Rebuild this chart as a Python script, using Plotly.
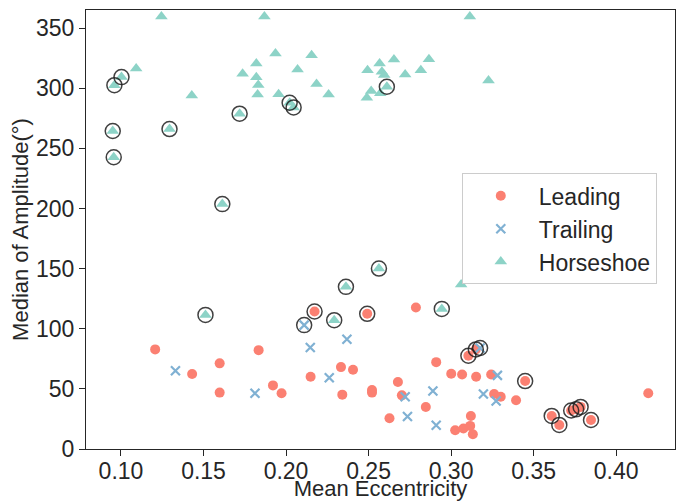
import plotly.graph_objects as go

# Leading (red circles): eccentricity, amplitude, circled flag
lead_e = [0.1207, 0.1431, 0.1598, 0.1598, 0.1834, 0.1921, 0.1973,
          0.2173, 0.2492, 0.2787, 0.2149, 0.2333, 0.2406, 0.2341, 0.2521, 0.2521,
          0.2678, 0.2702, 0.2627, 0.2847, 0.2910, 0.3001, 0.3067, 0.3152, 0.3243,
          0.3120, 0.3025, 0.3075, 0.3116, 0.3132, 0.3261, 0.3301, 0.3105, 0.3150,
          0.3394, 0.3449, 0.4195, 0.3610, 0.3656, 0.3728, 0.3758, 0.3785, 0.3848]
lead_v = [82.8, 62.3, 71.2, 46.9, 82.2, 52.9, 46.3,
          114.3, 112.4, 117.6, 60.1, 68.1, 65.9, 45.2, 49.0, 46.9,
          55.7, 44.6, 25.5, 34.9, 72.2, 62.6, 62.0, 60.1, 62.0,
          27.5, 15.6, 17.0, 19.2, 12.3, 45.7, 43.5, 77.5, 82.8,
          40.5, 56.5, 46.3, 27.5, 20.0, 32.0, 33.0, 35.0, 24.1]
lead_c = [0, 0, 0, 0, 0, 0, 0,
          1, 1, 0, 0, 0, 0, 0, 0, 0,
          0, 0, 0, 0, 0, 0, 0, 0, 0,
          0, 0, 0, 0, 0, 0, 0, 1, 1,
          0, 1, 0, 1, 1, 1, 1, 1, 1]

# Trailing (blue crosses)
trail_e = [0.1330, 0.1812, 0.2110, 0.2147, 0.2369, 0.2262, 0.2722, 0.2736,
           0.2890, 0.2910, 0.3281, 0.3196, 0.3273, 0.3176]
trail_v = [65.1, 46.3, 103.0, 84.4, 91.3, 59.3, 43.5, 27.0,
           48.2, 19.7, 61.2, 45.7, 39.9, 84.0]
trail_c = [0, 0, 1, 0, 0, 0, 0, 0, 0, 0, 0, 0, 0, 1]

# Horseshoe (teal triangles)
horse_e = [0.1245, 0.1869, 0.3114, 0.1936, 0.1820, 0.1092, 0.1737, 0.1820, 0.1832,
           0.1003, 0.0960, 0.1429, 0.1828, 0.1955, 0.1719, 0.0950, 0.1294, 0.0956,
           0.2155, 0.2070, 0.2185, 0.2258, 0.2022, 0.2046, 0.2494, 0.2567, 0.2581,
           0.2595, 0.2654, 0.2722, 0.2817, 0.2866, 0.3227, 0.2611, 0.2516, 0.2571,
           0.2490, 0.1614, 0.1512, 0.2563, 0.2363, 0.3061, 0.2292, 0.2944]
horse_v = [359.5, 359.5, 359.5, 328.8, 320.5, 316.4, 312.0, 309.0, 302.6,
           309.2, 302.5, 294.0, 294.8, 295.0, 278.8, 264.4, 266.0, 242.6,
           327.4, 315.6, 303.4, 294.8, 287.9, 284.0, 315.0, 320.5, 313.6,
           310.9, 323.9, 311.4, 315.0, 324.1, 306.4, 301.2, 297.6, 295.7,
           292.0, 203.6, 111.5, 150.0, 134.8, 136.7, 107.1, 116.5]
horse_c = [0, 0, 0, 0, 0, 0, 0, 0, 0,
           1, 1, 0, 0, 0, 1, 1, 1, 1,
           0, 0, 0, 0, 1, 1, 0, 0, 0,
           0, 0, 0, 0, 0, 0, 1, 0, 0,
           0, 1, 1, 1, 1, 0, 1, 1]

x_ticks = [0.10, 0.15, 0.20, 0.25, 0.30, 0.35, 0.40]
y_ticks = [0, 50, 100, 150, 200, 250, 300, 350]

FONT = "Liberation Sans, Arial, sans-serif"
TXT = "#262626"

fig = go.Figure()
fig.add_trace(go.Scatter(x=lead_e, y=lead_v, mode="markers", name="Leading", cliponaxis=False,
                         marker=dict(symbol="circle", size=10, color="#fb8072", line=dict(width=0))))
fig.add_trace(go.Scatter(x=trail_e, y=trail_v, mode="markers", name="Trailing", cliponaxis=False,
                         marker=dict(symbol="x-thin", size=9, color="#80b1d3",
                                     line=dict(width=2.2, color="#80b1d3"))))
fig.add_trace(go.Scatter(x=horse_e, y=horse_v, mode="markers", name="Horseshoe", cliponaxis=False,
                         marker=dict(symbol="triangle-up", size=11, color="#8dd3c7", line=dict(width=0))))

ring_e, ring_v = [], []
for es, vs, cs in ((lead_e, lead_v, lead_c), (trail_e, trail_v, trail_c), (horse_e, horse_v, horse_c)):
    for e, v, c in zip(es, vs, cs):
        if c:
            ring_e.append(e)
            ring_v.append(v)
fig.add_trace(go.Scatter(x=ring_e, y=ring_v, mode="markers", showlegend=False, hoverinfo="skip",
                         cliponaxis=False,
                         marker=dict(symbol="circle-open", size=15, color="rgba(30,30,30,0.85)",
                                     line=dict(width=1.5, color="rgba(30,30,30,0.85)"))))

axis_common = dict(showline=True, mirror=True, linecolor=TXT, linewidth=1.3,
                   ticks="outside", ticklen=6, tickwidth=1.3, tickcolor=TXT,
                   showgrid=False, zeroline=False, automargin=False,
                   tickfont=dict(family=FONT, size=23, color=TXT))

# The page body has an 8px default margin, so the figure is sized to fit the window.
fig.update_layout(
    width=678, height=493,
    margin=dict(l=78, r=11, t=2, b=52),
    paper_bgcolor="white", plot_bgcolor="white",
    font=dict(family=FONT, size=22, color=TXT),
    xaxis=dict(range=[0.0788, 0.4357], tickvals=x_ticks, tickformat=".2f",
               ticklabelstandoff=-5,
               title=dict(text="Mean Eccentricity", font=dict(size=22), standoff=8),
               **axis_common),
    yaxis=dict(range=[0, 365], tickvals=y_ticks, ticklabelstandoff=0,
               title=dict(text="Median of Amplitude(°)", font=dict(size=22), standoff=6),
               **axis_common),
    legend=dict(x=0.638, y=0.628, xanchor="left", yanchor="top",
                bgcolor="white", bordercolor="#cccccc", borderwidth=1,
                font=dict(family=FONT, size=23, color=TXT), itemwidth=66),
    showlegend=True,
)

fig.write_html("out.html")
